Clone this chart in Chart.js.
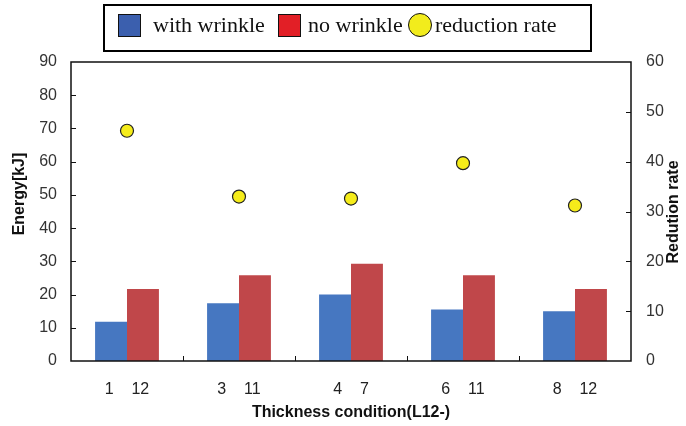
<!DOCTYPE html>
<html>
<head>
<meta charset="utf-8">
<script src="https://cdn.jsdelivr.net/npm/chart.js@4.4.0/dist/chart.umd.min.js"></script>
<style>
  body { margin: 0; background: #fff; }
  #wrap { position: relative; width: 686px; height: 426px; }
  .legend-box { position: absolute; left: 103px; top: 4px; width: 489px; height: 48px; border: 2px solid #000; box-sizing: border-box; }
  .sw { position: absolute; top: 14px; width: 23px; height: 23px; border: 1.5px solid #111; box-sizing: border-box; }
  .dot { position: absolute; top: 13px; left: 408px; width: 24px; height: 24px; border-radius: 50%; border: 1.5px solid #111; box-sizing: border-box; background: #f2ec1c; }
  .lt { position: absolute; top: 13px; font-family: "Liberation Serif", serif; font-size: 22px; line-height: 24px; color: #111; white-space: nowrap; }
</style>
</head>
<body>
<div id="wrap">
  <canvas id="energyChart" width="686" height="426"></canvas>
  <div class="legend-box"></div>
  <div class="sw" style="left:118px;background:#3b5fae"></div>
  <div class="lt" style="left:153px">with wrinkle</div>
  <div class="sw" style="left:278px;background:#e21f26"></div>
  <div class="lt" style="left:308px">no wrinkle</div>
  <div class="dot"></div>
  <div class="lt" style="left:435px">reduction rate</div>
</div>
<script>
const categories = ['1    12', '3    11', '4    7', '6    11', '8    12'];
const withWrinkle = [11.8, 17.4, 20.0, 15.5, 15.0];
const noWrinkle = [21.7, 25.8, 29.3, 25.8, 21.7];
const reductionRate = [46.2, 33.0, 32.6, 39.7, 31.2];

const tickFont = { family: 'Liberation Sans', size: 16 };
const titleFont = { family: 'Liberation Sans', size: 16, weight: 'bold' };

// frame, inner tick marks and the two rotated axis titles
const framePlugin = {
    id: 'frame',
    afterDraw(chart) {
        const { ctx, chartArea: a, scales } = chart;
        ctx.save();
        ctx.strokeStyle = '#111';
        ctx.lineWidth = 1;
        scales.y.ticks.forEach(t => {
            if (t.value <= 0 || t.value >= 90) return;
            const py = Math.round(scales.y.getPixelForValue(t.value)) + 0.5;
            ctx.beginPath(); ctx.moveTo(a.left, py); ctx.lineTo(a.left + 5, py); ctx.stroke();
        });
        scales.y1.ticks.forEach(t => {
            if (t.value <= 0 || t.value >= 60) return;
            const py = Math.round(scales.y1.getPixelForValue(t.value)) + 0.5;
            ctx.beginPath(); ctx.moveTo(a.right - 5, py); ctx.lineTo(a.right, py); ctx.stroke();
        });
        for (let i = 0; i < categories.length - 1; i++) {
            const px = Math.round((scales.x.getPixelForValue(i) + scales.x.getPixelForValue(i + 1)) / 2) + 0.5;
            ctx.beginPath(); ctx.moveTo(px, a.bottom); ctx.lineTo(px, a.bottom - 5); ctx.stroke();
        }
        ctx.lineWidth = 1.5;
        ctx.strokeRect(a.left, a.top, a.right - a.left, a.bottom - a.top);

        ctx.fillStyle = '#111';
        ctx.font = 'bold 16px "Liberation Sans"';
        ctx.textAlign = 'center';
        ctx.textBaseline = 'middle';
        ctx.translate(20, 194);
        ctx.rotate(-Math.PI / 2);
        ctx.fillText('Energy[kJ]', 0, 0);
        ctx.restore();

        ctx.save();
        ctx.fillStyle = '#111';
        ctx.font = 'bold 16px "Liberation Sans"';
        ctx.textAlign = 'center';
        ctx.textBaseline = 'middle';
        ctx.translate(674, 212);
        ctx.rotate(-Math.PI / 2);
        ctx.fillText('Redution rate', 0, 0);
        ctx.restore();
    }
};

new Chart(document.getElementById('energyChart').getContext('2d'), {
    type: 'bar',
    data: {
        labels: categories,
        datasets: [
            {
                type: 'line',
                label: 'reduction rate',
                data: reductionRate,
                yAxisID: 'y1',
                showLine: false,
                pointRadius: 6.5,
                pointBackgroundColor: '#f5ec1a',
                pointBorderColor: '#222',
                pointBorderWidth: 1.2,
                order: 0,
            },
            {
                label: 'with wrinkle',
                data: withWrinkle,
                backgroundColor: '#4677c1',
                yAxisID: 'y',
                categoryPercentage: 0.57,
                barPercentage: 1.0,
                order: 1,
            },
            {
                label: 'no wrinkle',
                data: noWrinkle,
                backgroundColor: '#c0474a',
                yAxisID: 'y',
                categoryPercentage: 0.57,
                barPercentage: 1.0,
                order: 1,
            }
        ]
    },
    options: {
        responsive: false,
        animation: false,
        layout: { padding: { top: 62, left: 0, right: 0, bottom: 0 } },
        plugins: {
            legend: { display: false },
            tooltip: { enabled: false },
        },
        scales: {
            x: {
                grid: { display: false, drawTicks: false },
                border: { display: false },
                ticks: { color: '#222', font: tickFont, padding: 19, maxRotation: 0 },
                title: {
                    display: true,
                    text: 'Thickness condition(L12-)',
                    color: '#111',
                    font: titleFont,
                    padding: { top: 0, bottom: 4 },
                },
                afterFit: s => { s.height = 65; },
            },
            y: {
                position: 'left',
                min: 0,
                max: 90,
                grid: { display: false, drawTicks: false },
                border: { display: false },
                ticks: { stepSize: 10, color: '#333', font: tickFont, padding: 14 },
                afterFit: s => { s.width = 71; },
            },
            y1: {
                position: 'right',
                min: 0,
                max: 60,
                grid: { display: false, drawTicks: false },
                border: { display: false },
                ticks: { stepSize: 10, color: '#333', font: tickFont, padding: 15 },
                afterFit: s => { s.width = 55; },
            }
        }
    },
    plugins: [framePlugin]
});
</script>
</body>
</html>
